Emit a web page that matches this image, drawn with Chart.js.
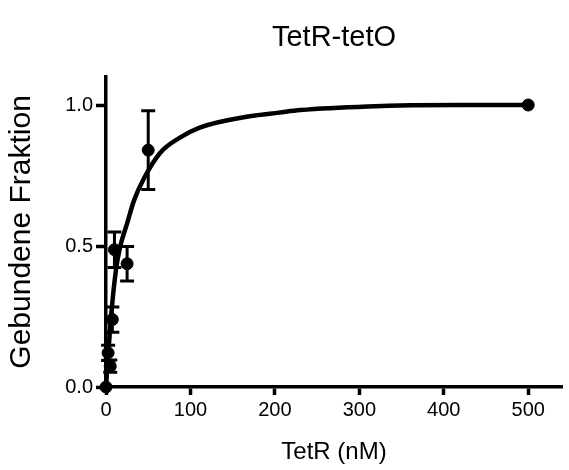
<!DOCTYPE html>
<html lang="de">
<head>
  <meta charset="UTF-8">
  <title>TetR-tetO</title>
  <script src="https://cdn.jsdelivr.net/npm/chart.js@4.4.0/dist/chart.umd.min.js"></script>
  <style>
    * { margin: 0; padding: 0; box-sizing: border-box; }
    body { background: #fff; }
    .wrap { width: 569px; height: 470px; position: relative; }
  </style>
</head>
<body>
  <div class="wrap"><canvas id="bindChart"></canvas></div>

  <script>
    // measured points (mean +/- error)
    const conc = [0, 2.5, 5, 7.5, 10, 25, 50, 500];
    const bound = [0, 0.121, 0.074, 0.239, 0.487, 0.437, 0.84, 1.0];
    const boundErr = [0, 0.027, 0.022, 0.045, 0.063, 0.061, 0.14, 0];

    // fitted curve
    const fitX = [0, 3, 6, 12, 17, 25, 33, 45, 64, 88, 111, 170, 205, 230, 310, 420, 500];
    const fitY = [0, 0.13, 0.25, 0.42, 0.50, 0.58, 0.66, 0.74, 0.83, 0.885, 0.92, 0.96, 0.973, 0.982, 0.995, 1.0, 1.0];

    const xTicks = [0, 100, 200, 300, 400, 500];
    const yTicks = [0, 0.5, 1.0];

    const font = 'Liberation Sans, Arial, sans-serif';

    const errorBars = {
      id: 'errorBars',
      afterDatasetsDraw(chart) {
        const ctx = chart.ctx;
        const xs = chart.scales.x, ys = chart.scales.y;
        ctx.save();
        ctx.strokeStyle = '#000';
        ctx.lineWidth = 3;
        conc.forEach((c, i) => {
          if (!boundErr[i]) return;
          const px = xs.getPixelForValue(c);
          const top = ys.getPixelForValue(bound[i] + boundErr[i]);
          const bot = ys.getPixelForValue(bound[i] - boundErr[i]);
          ctx.beginPath();
          ctx.moveTo(px, top); ctx.lineTo(px, bot);
          ctx.moveTo(px - 7, top); ctx.lineTo(px + 7, top);
          ctx.moveTo(px - 7, bot); ctx.lineTo(px + 7, bot);
          ctx.stroke();
        });
        ctx.restore();
      }
    };

    new Chart(document.getElementById('bindChart'), {
      type: 'scatter',
      data: {
        datasets: [{
          label: 'Fit',
          data: fitX.map((x, i) => ({ x: x, y: fitY[i] })),
          showLine: true,
          borderColor: '#000',
          borderWidth: 4.5,
          pointRadius: 0,
          cubicInterpolationMode: 'monotone',
          clip: false
        }, {
          label: 'Messwerte',
          data: conc.map((x, i) => ({ x: x, y: bound[i] })),
          backgroundColor: '#000',
          borderColor: '#000',
          pointRadius: 6,
          clip: false
        }]
      },
      options: {
        responsive: true,
        maintainAspectRatio: false,
        animation: false,
        layout: { padding: { left: 0, right: 4, top: 0, bottom: 0 } },
        plugins: {
          legend: { display: false },
          tooltip: { enabled: false },
          title: {
            display: true,
            fullSize: false,
            text: 'TetR-tetO',
            color: '#000',
            font: { family: font, size: 29, weight: 'normal' },
            padding: { top: 21, bottom: 21 }
          }
        },
        scales: {
          x: {
            type: 'linear',
            min: 0,
            max: 540,
            afterBuildTicks: s => { s.ticks = xTicks.map(v => ({ value: v })); },
            afterFit: s => { s.height = 83; },
            grid: { display: true, drawOnChartArea: false, tickLength: 8, tickWidth: 3.5, tickColor: '#000' },
            border: { display: true, width: 3.5, color: '#000' },
            ticks: { color: '#000', padding: 3, font: { family: font, size: 20 } },
            title: {
              display: true, text: 'TetR (nM)', color: '#000',
              font: { family: font, size: 24 }, padding: { top: 0, bottom: 3 }
            }
          },
          y: {
            type: 'linear',
            min: 0,
            max: 1.1,
            afterBuildTicks: s => { s.ticks = yTicks.map(v => ({ value: v })); },
            afterFit: s => { s.width = 106; },
            grid: { display: true, drawOnChartArea: false, tickLength: 10, tickWidth: 3.5, tickColor: '#000' },
            border: { display: true, width: 3.5, color: '#000' },
            ticks: { color: '#000', padding: 3, font: { family: font, size: 20 }, callback: v => v.toFixed(1) },
            title: {
              display: true, text: 'Gebundene Fraktion', color: '#000',
              font: { family: font, size: 30 }, padding: { top: 4, bottom: 0 }
            }
          }
        }
      },
      plugins: [errorBars]
    });
  </script>
</body>
</html>
